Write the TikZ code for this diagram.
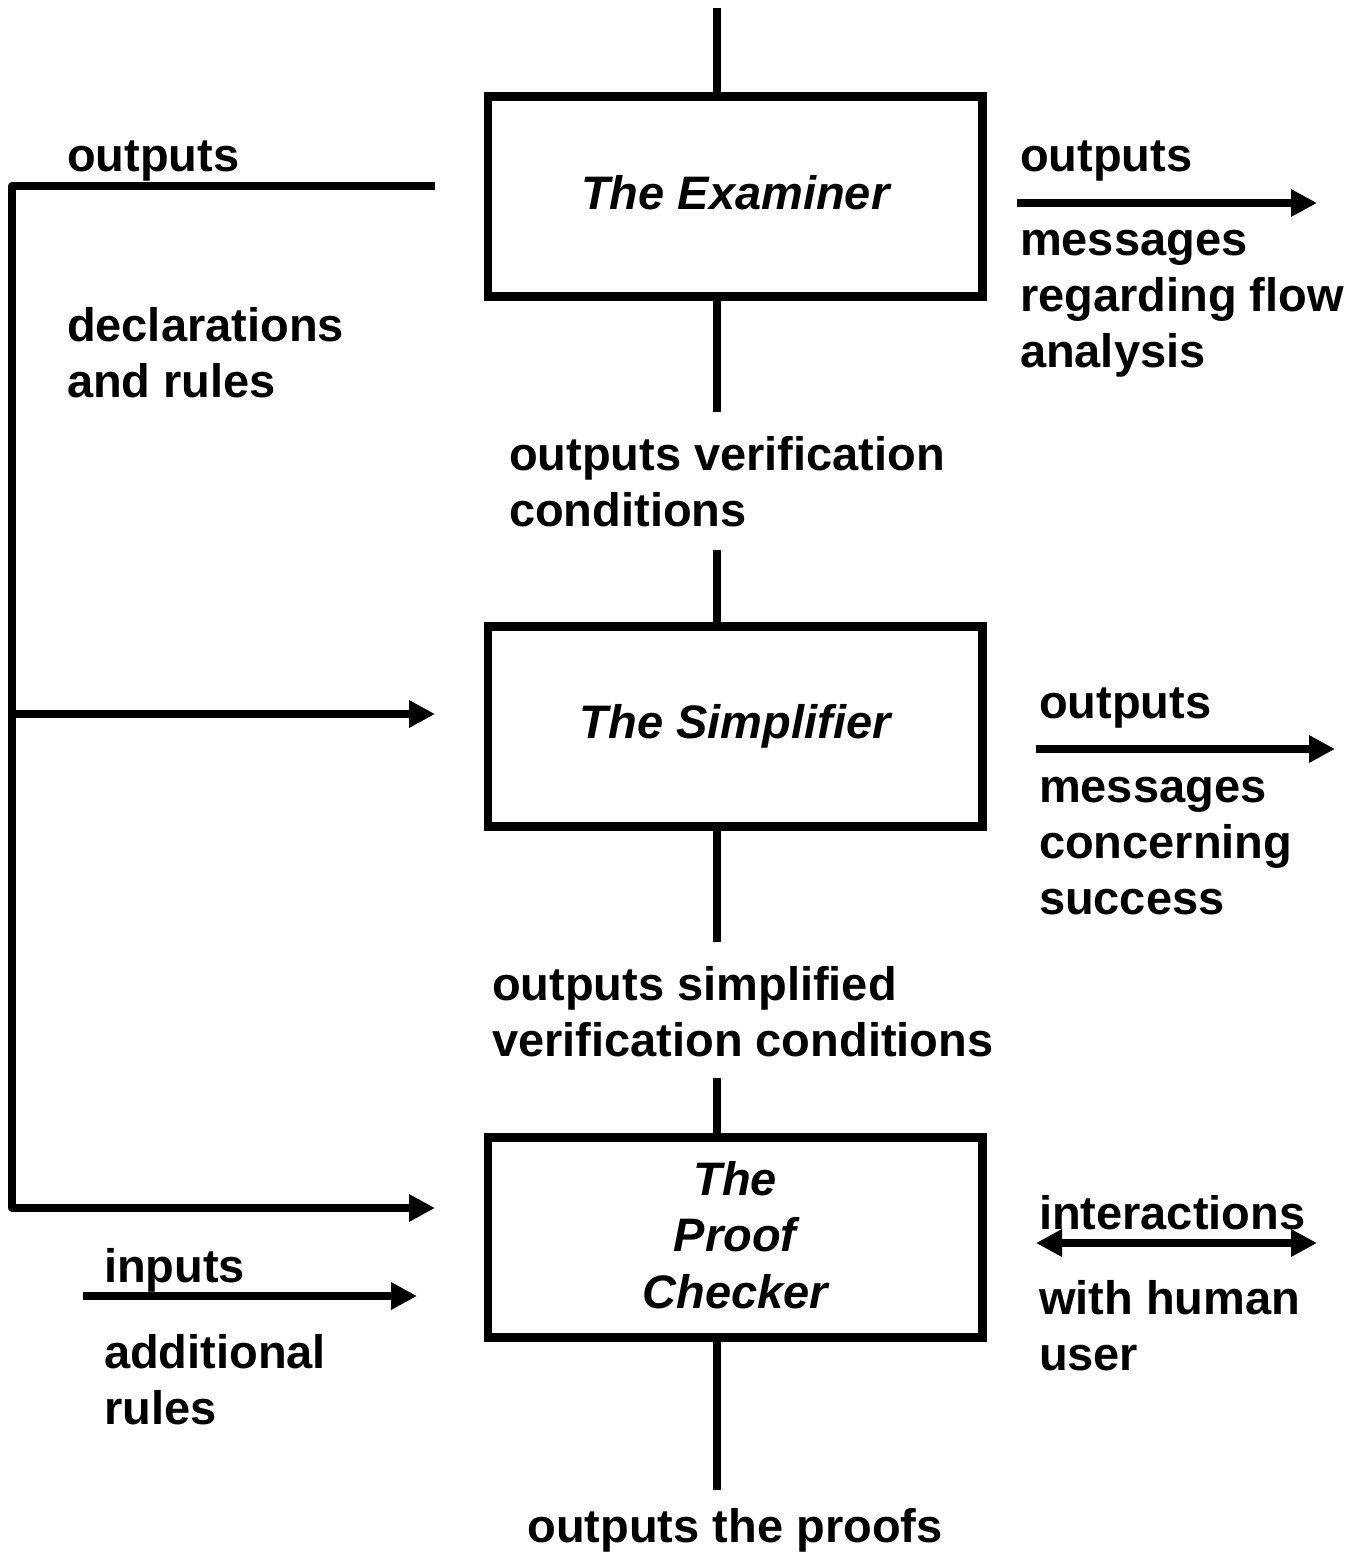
\documentclass[tikz,border=0pt]{standalone}
\usepackage{fontspec}
\setmainfont{Liberation Sans}
\usetikzlibrary{arrows.meta}
\begin{document}
\begin{tikzpicture}[x=1pt,y=-1pt,
  every node/.style={inner sep=0pt, outer sep=0pt},
  conn/.style={line width=8.5pt, line join=round},
  arr/.style={conn, -{Triangle[length=26pt,width=26pt]}},
  darr/.style={conn, {Triangle[length=26pt,width=26pt]}-{Triangle[length=26pt,width=26pt]}},
  procbox/.style={draw, line width=8.5pt, minimum width=494.5pt, minimum height=200pt,
    align=center, font=\fontsize{47}{56.5}\selectfont\bfseries\itshape},
  lbl/.style={anchor=base west, align=left, font=\fontsize{47}{56}\selectfont\bfseries},
  clbl/.style={anchor=base, align=center, font=\fontsize{47}{56}\selectfont\bfseries}]
\useasboundingbox (0,0) rectangle (1364,1556);

% boxes
\node[procbox, text depth=8pt] (exa) at (735.25,196.5) {The Examiner};
\node[procbox] (sim) at (735.25,726.5) {The Simplifier};
\node[procbox] (pc)  at (735.25,1237.5) {The\\Proof\\Checker\rule[-6pt]{0pt}{6pt}};

% main vertical connectors
\coordinate (top) at (717,8);
\coordinate (v1) at (717,412);
\coordinate (v2) at (717,550);
\coordinate (v3) at (717,942);
\coordinate (v4) at (717,1078);
\coordinate (v5) at (717,1490);
\draw[conn] (top) -- (top |- exa.north);
\draw[conn] (v1 |- exa.south) -- (v1);
\draw[conn] (v2) -- (v2 |- sim.north);
\draw[conn] (v3 |- sim.south) -- (v3);
\draw[conn] (v4) -- (v4 |- pc.north);
\draw[conn] (v5 |- pc.south) -- (v5);

% left feedback line
\coordinate (lstart) at (435,186);
\coordinate (lt) at (12,186);
\coordinate (lm) at (12,714);
\coordinate (lb) at (12,1208);
\coordinate (simin) at (435,714);
\coordinate (pcin) at (435,1208);
\draw[arr] (lstart) -- (lt) -- (lb) -- (pcin);
\draw[arr] (lm) -- (simin);

% inputs arrow
\coordinate (inA) at (83,1296);
\coordinate (inB) at (417,1296);
\draw[arr] (inA) -- (inB);

% right arrows
\coordinate (r1a) at (1017,203);
\coordinate (r1b) at (1317,203);
\draw[arr] (r1a) -- (r1b);
\coordinate (r2a) at (1036,749);
\coordinate (r2b) at (1335,749);
\draw[arr] (r2a) -- (r2b);
\coordinate (r3a) at (1036,1243);
\coordinate (r3b) at (1317,1243);
\draw[darr] (r3a) -- (r3b);

% labels left (base = last line's baseline)
\node[lbl] (lo) at (67,171) {outputs};
\node[lbl] (ldr) at (67,397) {declarations\\and rules};
\node[lbl] (lin) at (104,1282) {inputs};
\node[lbl] (lar) at (104,1424) {additional\\rules};

% labels centre
\node[lbl] (ovc) at (509,526) {outputs verification\\conditions};
\node[lbl] (osv) at (492,1056) {outputs simplified\\verification conditions};
\node[clbl] (otp) at (735,1542) {outputs the proofs};

% labels right
\node[lbl] (ro1) at (1020,171) {outputs};
\node[lbl] (rm1) at (1020,367) {messages\\regarding flow\\analysis};
\node[lbl] (ro2) at (1039,718) {outputs};
\node[lbl] (rm2) at (1039,914) {messages\\concerning\\success};
\node[lbl] (ri) at (1039,1229) {interactions};
\node[lbl] (rw) at (1039,1370) {with human\\user};
\end{tikzpicture}
\end{document}
